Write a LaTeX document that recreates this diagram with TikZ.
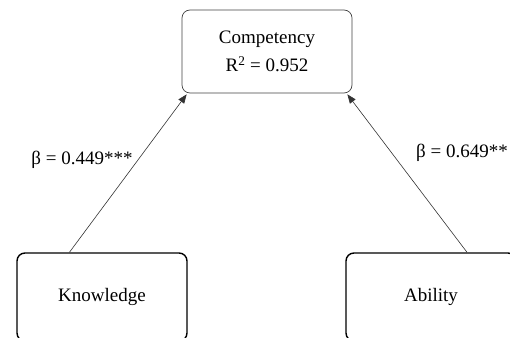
\documentclass[tikz,border=0pt]{standalone}
\usepackage{fontspec}
\setmainfont{Liberation Serif}
\usetikzlibrary{arrows.meta,calc}
\begin{document}
\begin{tikzpicture}[x=1pt,y=1pt,
  font=\fontsize{19}{23}\selectfont,
  topbox/.style={draw=black!75, line width=0.7pt, rounded corners=8pt, minimum width=170pt, minimum height=83pt, align=center},
  lowbox/.style={draw=black, line width=1.4pt, rounded corners=8pt, minimum width=170pt, minimum height=88pt, align=center},
  path/.style={draw=black!80, line width=0.6pt, -{Triangle[length=9pt,width=7pt]}},
  lbl/.style={inner sep=0pt}]
\clip (0,0) rectangle (510,337);
\useasboundingbox (0,0) rectangle (510,337);
\node[topbox] (c) at (267,285.5) {Competency\\[5pt]R\textsuperscript{2} = 0.952};
\node[lowbox] (k) at (102,40) {Knowledge};
\node[lowbox] (a) at (431,40) {Ability};
\coordinate (ks) at ($(k.north west)!0.31!(k.north east)$);
\coordinate (as) at ($(a.north west)!0.71!(a.north east)$);
\draw[path] (ks) -- ([xshift=5pt,yshift=-1pt]c.south west);
\draw[path] (as) -- ([xshift=-5pt,yshift=-1pt]c.south east);
\node[lbl] (l1) at (82,177) {β = 0.449***};
\node[lbl] (l2) at (462,184) {β = 0.649**};
\end{tikzpicture}
\end{document}
